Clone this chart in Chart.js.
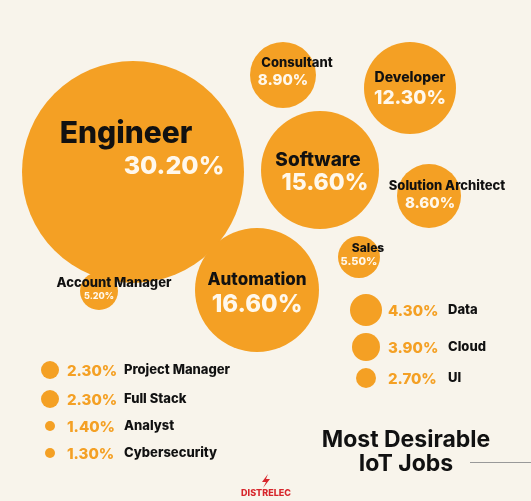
<!DOCTYPE html>
<html><head><meta charset="utf-8">
<script src="https://cdn.jsdelivr.net/npm/chart.js@4"></script>
<style>html,body{margin:0;padding:0;background:#f8f4eb;}#c{display:block}</style>
</head><body>
<div style="width:531px;height:501px"><canvas id="c" width="531" height="501"></canvas></div>
<script>
const jobs = ["Engineer","Consultant","Developer","Software","Solution Architect","Sales","Account Manager","Automation","Data","Cloud","UI","Project Manager","Full Stack","Analyst","Cybersecurity"];
const shares = [30.2,8.9,12.3,15.6,8.6,5.5,5.2,16.6,4.3,3.9,2.7,2.3,2.3,1.4,1.3];
const posX = [133,283,410,320,429,359,99,257,366,366,366,50,50,50,50];
const posY = [172,75,88,170,196,257,291,290,310,347,378,370,399,426,453];
const radius = [111,33,46,59,32,21,19,62,16,14,10,9,9,5,5];
// label styles: [type, nameDx, nameDy, nameSize, pctDx, pctDy, pctSize]
const labelStyle = [
 ["in",-7,-38,30,41,-6,25],["in",14,-12,13,0,5,15],["in",0,-10,14,0,10,19],["in",-2,-10,19,5,13,23],
 ["in",18,-10,13,1,7,15],["in",9,-9,12,0,5,11],["in",15,-8,13,0,5,9],["in",0,-10,17,0,15,24],
 ["r"],["r"],["r"],["l"],["l"],["l"],["l"]
];
const orange = "#f4a024";
const F = 'Inter, "Open Sans", sans-serif';
const labels = {
 id:"labels",
 afterDatasetsDraw(ch){
  const c=ch.ctx, xs=ch.scales.x, ys=ch.scales.y;
  c.save(); c.textAlign="center"; c.textBaseline="middle";
  jobs.forEach((j,i)=>{
   const px=xs.getPixelForValue(posX[i]), py=ys.getPixelForValue(posY[i]);
   const s=labelStyle[i], pct=shares[i].toFixed(2)+"%";
   if(s[0]==="in"){
     c.font=`800 ${s[3]}px ${F}`; c.fillStyle="#111";
     c.fillText(j,px+s[1],py+s[2]);
     c.font=`800 ${s[6]}px ${F}`; c.fillStyle="#fff8ec";
     c.fillText(pct,px+s[4],py+s[5]);
   } else {
     const x0 = s[0]==="r" ? px+22 : px+17, x1 = s[0]==="r" ? px+82 : px+74;
     c.textAlign="left";
     c.font=`800 15px ${F}`; c.fillStyle=orange;
     c.fillText(pct,x0,py+1);
     c.font=`800 13px ${F}`; c.fillStyle="#111";
     c.fillText(j,x1,py);
     c.textAlign="center";
   }
  });
  c.font=`700 23px ${F}`; c.fillStyle="#111";
  c.fillText("Most Desirable",406,440); c.fillText("IoT Jobs",406,464);
  c.strokeStyle="#999"; c.lineWidth=1; c.beginPath(); c.moveTo(470,462.5); c.lineTo(531,462.5); c.stroke();
  c.fillStyle="#d7262c"; c.font=`800 9px ${F}`; c.fillText("DISTRELEC",266,493);
  c.beginPath(); c.moveTo(268,474); c.lineTo(262,482); c.lineTo(266,482); c.lineTo(263,488); c.lineTo(270,479); c.lineTo(266,479); c.closePath(); c.fill();
  c.restore();
 }
};
new Chart(document.getElementById("c"),{
 type:"bubble",
 data:{datasets:[{data:jobs.map((j,i)=>({x:posX[i],y:posY[i],r:radius[i]})),backgroundColor:orange,borderWidth:0,hoverRadius:0,clip:false}]},
 options:{responsive:false,animation:false,layout:{padding:0,autoPadding:false},
  plugins:{legend:{display:false},tooltip:{enabled:false}},
  scales:{x:{type:"linear",min:0,max:531,display:false},y:{type:"linear",min:0,max:501,reverse:true,display:false}}},
 plugins:[labels]
});
</script></body></html>
